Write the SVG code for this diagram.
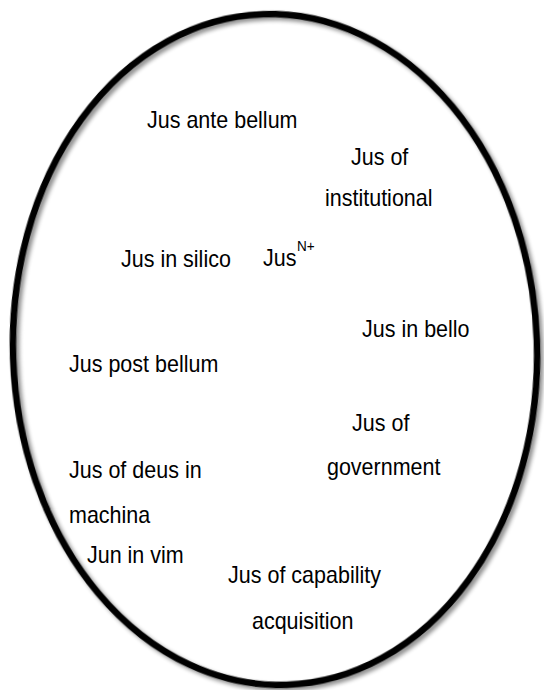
<svg xmlns="http://www.w3.org/2000/svg" width="544" height="690" viewBox="0 0 544 690">
  <defs>
    <filter id="shadow" x="-10%" y="-10%" width="120%" height="120%">
      <feGaussianBlur in="SourceAlpha" stdDeviation="2.2"/>
      <feOffset dx="3" dy="3" result="b"/>
      <feComponentTransfer><feFuncA type="linear" slope="0.45"/></feComponentTransfer>
      <feMerge><feMergeNode/><feMergeNode in="SourceGraphic"/></feMerge>
    </filter>
  </defs>
  <style>
    .lbl { font-family: "Liberation Sans", Arial, sans-serif; font-size: 23px; fill: #000; }
    .sup { font-family: "Liberation Sans", Arial, sans-serif; font-size: 14.5px; fill: #000; }
    .ring { fill: none; stroke: #000; stroke-width: 6.5; }
  </style>
  <rect width="544" height="690" fill="#fff"/>
  <g id="boundary">
    <ellipse class="ring" cx="275" cy="349.5" rx="262" ry="335.5" transform="rotate(-2 275 349.5)" filter="url(#shadow)"/>
  </g>
  <g id="connectors"/>
  <g id="labels" transform="scale(0.935 1)">
    <g id="jus-ante-bellum"><text class="lbl" x="157.2" y="128">Jus ante bellum</text></g>
    <g id="jus-of-institutional">
      <text class="lbl" x="375.4" y="165">Jus of</text>
      <text class="lbl" x="347.6" y="206">institutional</text>
    </g>
    <g id="jus-in-silico"><text class="lbl" x="129.4" y="267">Jus in silico</text></g>
    <g id="jus-n-plus"><text class="lbl" x="281.3" y="266">Jus</text><text class="sup" x="317.6" y="251">N+</text></g>
    <g id="jus-in-bello"><text class="lbl" x="387.2" y="337">Jus in bello</text></g>
    <g id="jus-post-bellum"><text class="lbl" x="73.8" y="372">Jus post bellum</text></g>
    <g id="jus-of-government">
      <text class="lbl" x="376.5" y="431">Jus of</text>
      <text class="lbl" x="349.7" y="475">government</text>
    </g>
    <g id="jus-of-deus-in-machina">
      <text class="lbl" x="73.8" y="478">Jus of deus in</text>
      <text class="lbl" x="73.8" y="523">machina</text>
    </g>
    <g id="jun-in-vim"><text class="lbl" x="93" y="563">Jun in vim</text></g>
    <g id="jus-of-capability-acquisition">
      <text class="lbl" x="243.9" y="583">Jus of capability</text>
      <text class="lbl" x="269.5" y="629">acquisition</text>
    </g>
  </g>
</svg>
